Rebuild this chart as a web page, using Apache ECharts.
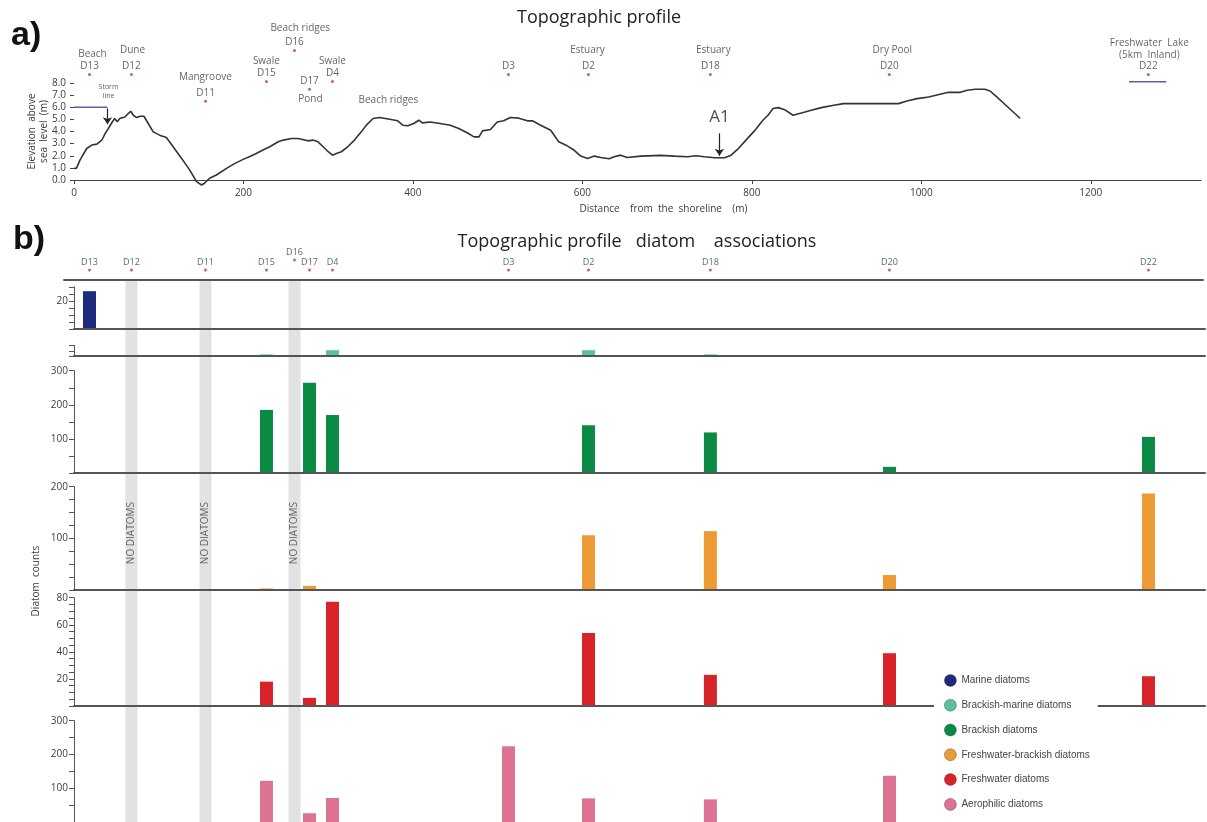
<!DOCTYPE html>
<html><head><meta charset="utf-8">
<script src="https://cdn.jsdelivr.net/npm/echarts@6/dist/echarts.min.js"></script>
<style>html,body{margin:0;padding:0;background:#fff}#c{width:1207px;height:822px}</style>
</head><body><div id="c"></div>
<script>
// ---------------- DATA ----------------
const samples = ['D13','D12','D11','D15','D16','D17','D4','D3','D2','D18','D20','D22'];
const sampleDistance = [18.3, 67.8, 155.2, 227.1, 260.2, 277.9, 305, 512.7, 607.1, 750.9, 962.2, 1267.8];

const profileDistance = [0,3,7,15,21,27,33,36.5,40.5,44.4,48,51,54,60,64,67,70,74,78,82.5,87.6,93.5,101,109,117,127,137,144.6,150.5,154,160,168,180,190,199.6,207,215,223,231,241,247,256.6,264,270,276,282,288,294,300,305,309.6,315.5,323,331,339,345,353,360.7,372.5,382,388,394,401,407,411,420.5,432,444,454,464,472,478,482,491.5,499.4,507,515,525,535,541,550.7,562.5,568,572,582,590,598,606,614,621.7,631.5,637.5,645,653,669,692.7,708.5,724,734,744,756,767.6,775.5,783,793,803,813,819,825,831,838.6,848.5,858.5,870,882,896.7,908,936,973,983,995,1008.6,1022,1032,1046,1054,1063.7,1075,1081,1089,1101,1116.7];
const profileElevation = [0.96,0.98,1.64,2.6,2.88,2.96,3.3,3.8,4.25,4.7,5.07,4.8,5.07,5.2,5.48,5.67,5.34,5.15,5.26,5.26,4.66,3.97,3.7,3.5,2.74,1.78,0.77,-0.14,-0.41,-0.27,0.14,0.41,0.96,1.37,1.7,1.92,2.19,2.47,2.74,3.15,3.29,3.42,3.42,3.34,3.23,3.29,3.15,2.74,2.33,2.05,2.19,2.33,2.74,3.29,3.97,4.52,5.07,5.15,5.01,4.88,4.52,4.47,4.66,4.93,4.71,4.79,4.66,4.52,4.25,3.9,3.56,3.56,4.05,4.16,4.79,4.88,5.15,5.1,4.88,4.88,4.52,4.1,3.56,3.15,2.82,2.47,1.97,1.78,1.97,1.86,1.75,1.92,2.05,1.86,1.97,2.03,1.97,1.92,2.0,1.92,1.84,1.84,2.05,2.52,3.29,4.05,4.93,5.34,5.89,5.97,5.8,5.34,5.53,5.75,5.97,6.16,6.3,6.3,6.3,6.52,6.71,6.85,7.07,7.23,7.23,7.4,7.48,7.48,7.34,6.85,6.08,5.07];

const stormLineElevation = 6.0;
const stormLineExtent = [0, 39.5];
const lakeLevel = 8.1;
const lakeExtent = [1245, 1289];

const seriesNames = ['Marine diatoms','Brackish-marine diatoms','Brackish diatoms','Freshwater-brackish diatoms','Freshwater diatoms','Aerophilic diatoms'];
//                 D13 D12  D11  D15  D16  D17  D4   D3   D2   D18  D20  D22
const marine         = [27, null,null,null,null,null,null,null,null,null,null,null];
const brackishMarine = [null,null,null,1.5,null,null,5.5,null,5.5,1.5,null,null];
const brackish       = [null,null,null,185,null,265,170,null,140,119,18,106];
const freshBrackish  = [null,null,null,3,null,8,null,2,106,114,29,187];
const freshwater     = [null,null,null,18,null,6,77,null,54,23,39,22];
const aerophilic     = [null,null,null,122,null,26,71,224,70,67,137,null];
const noDiatomSamples = ['D12','D11','D16'];

const xTicksA = [0,200,400,600,800,1000,1200];
const panelMax = [30, 10, 300, 200, 80, 300];
const panelTickStep = [5, 5, 50, 25, 5, 50];
const panelLabels = [[20], [], [100,200,300], [100,200], [20,40,60,80], [100,200,300]];

const locationLabels = [
  ['Beach', 21.8, 10.35], ['Dune', 69, 10.7], ['Mangroove', 155, 8.46], ['Swale', 227, 9.78],
  ['Beach ridges', 267, 12.5], ['Pond', 279, 6.66], ['Swale', 305, 9.78], ['Beach ridges', 371, 6.57],
  ['Estuary', 606, 10.7], ['Estuary', 754.5, 10.7], ['Dry Pool', 965.7, 10.7],
  ['Freshwater  Lake', 1269, 11.26], ['(5km  Inland)', 1269, 10.27]
];

// ---------------- LAYOUT / STYLE ----------------
const dotLevelA = [8.71, 8.71, 6.49, 8.13, 10.68, 7.48, 8.13, 8.71, 8.71, 8.71, 8.71, 8.71];
const dotLevelB = samples.map(s => s === 'D16' ? 1.037 : 1.0185);
const colors = ['#1e2a7c','#5dbf9f','#0b8a45','#ec9b35','#d8232a','#dc7393'];
const panelTops = [287, 345.5, 370.7, 486.7, 597.7, 720.7];
const panelHeights = [42, 10.5, 102.3, 103.3, 108.3, 102.6];
const FONT = 'Open Sans';
const TXT = '#3c3c3c';
const AX = '#555';

const panelValues = [marine, brackishMarine, brackish, freshBrackish, freshwater, aerophilic];

const grids = [{left:74, right:6, top:83, height:97}];
const xAxes = [{
  gridIndex:0, type:'value', min:0, max:1330, interval:200,
  axisLine:{show:true, lineStyle:{color:'#444', width:1.2}},
  axisTick:{show:true, length:4, customValues:xTicksA, lineStyle:{color:'#444'}},
  axisLabel:{customValues:xTicksA, formatter:v=>String(v), fontSize:10, color:TXT, fontFamily:FONT, margin:8},
  splitLine:{show:false},
  name:'Distance    from  the  shoreline    (m)', nameLocation:'middle', nameGap:24, nameMoveOverlap:false,
  nameTextStyle:{fontSize:10, color:TXT, fontFamily:FONT, padding:[0,0,0,52]}
}];
const yAxes = [{
  gridIndex:0, type:'value', min:0, max:8, interval:1,
  axisLine:{show:false}, axisTick:{show:true, length:4, lineStyle:{color:'#444'}},
  axisLabel:{formatter:v=>v.toFixed(1), fontSize:10, color:TXT, fontFamily:FONT, margin:8},
  splitLine:{show:false},
  name:'Elevation  above\nsea  level  (m)', nameLocation:'middle', nameGap:24, nameMoveOverlap:false,
  nameTextStyle:{fontSize:10, color:TXT, fontFamily:FONT, lineHeight:12}
}];

for (let i = 0; i < 6; i++) {
  grids.push({left:74, right:2, top:panelTops[i], height:panelHeights[i]});
  xAxes.push({gridIndex:i+1, type:'value', min:0, max:1334.5, z:5,
    axisLine:{show:i < 5, lineStyle:{color:AX, width:2}}, axisTick:{show:false}, axisLabel:{show:false}, splitLine:{show:false}});
  const labs = panelLabels[i];
  yAxes.push({gridIndex:i+1, type:'value', min:0, max:panelMax[i], interval:panelTickStep[i],
    axisLine:{show:true, lineStyle:{color:AX, width:1}},
    axisTick:{show:true, length:5, lineStyle:{color:AX}},
    axisLabel:{formatter:v=>labs.includes(v)?String(v):'', fontSize:10, color:TXT, fontFamily:FONT, margin:6},
    splitLine:{show:false}});
}
// overlay grid for the whole b) block
grids.push({left:64, right:4, top:280, height:542});
xAxes.push({gridIndex:7, type:'value', min:-11.8, max:1332.2, position:'top', z:5,
  axisLine:{show:true, onZero:false, lineStyle:{color:AX, width:2}}, axisTick:{show:false}, axisLabel:{show:false}, splitLine:{show:false}});
yAxes.push({gridIndex:7, type:'value', min:0, max:1,
  axisLine:{show:false, onZero:false}, axisTick:{show:false}, axisLabel:{show:false}, splitLine:{show:false},
  name:'Diatom  counts', nameLocation:'middle', nameGap:23,
  nameTextStyle:{fontSize:10, color:TXT, fontFamily:FONT, padding:[0,60,0,0]}});

const series = [];
// a) profile
series.push({type:'line', xAxisIndex:0, yAxisIndex:0, clip:false, symbol:'none', silent:true,
  data: profileDistance.map((d,i)=>[d, profileElevation[i]]),
  lineStyle:{color:'#333', width:1.6},
  markLine:{silent:true, symbol:['none','arrow'], symbolSize:7, animation:false,
    lineStyle:{color:'#222', width:1.2, type:'solid'}, label:{show:false},
    data:[[{coord:[39.5,5.9]},{coord:[39.5,4.6]}],[{coord:[761.7,3.85]},{coord:[761.7,2.0]}]]}
});
series.push({type:'line', xAxisIndex:0, yAxisIndex:0, clip:false, symbol:'none', silent:true,
  data: stormLineExtent.map(d=>[d, stormLineElevation]), lineStyle:{color:'#5a5fa8', width:1.5}});
series.push({type:'line', xAxisIndex:0, yAxisIndex:0, clip:false, symbol:'none', silent:true,
  data: lakeExtent.map(d=>[d, lakeLevel]), lineStyle:{color:'#5a5fa8', width:1.5}});
series.push({type:'scatter', xAxisIndex:0, yAxisIndex:0, clip:false, symbolSize:3, silent:true,
  itemStyle:{color:'#c23a3a'},
  data: samples.map((s,i)=>({name:s, value:[sampleDistance[i], dotLevelA[i]]})),
  label:{show:true, position:'top', distance:2, formatter:'{b}', fontSize:10, color:TXT, fontFamily:FONT}});
series.push({type:'scatter', xAxisIndex:0, yAxisIndex:0, clip:false, symbolSize:0, silent:true,
  data: locationLabels.map(l=>({name:l[0], value:[l[1], l[2]]})),
  label:{show:true, position:'inside', formatter:'{b}', fontSize:10, color:TXT, fontFamily:FONT}});
series.push({type:'scatter', xAxisIndex:0, yAxisIndex:0, clip:false, symbolSize:0, silent:true,
  data:[{name:'Storm', value:[40.7,7.64]},{name:'line', value:[40.7,6.9]},
        {name:'A1', value:[761.7,5.2], label:{fontSize:17, color:'#222'}}],
  label:{show:true, position:'inside', formatter:'{b}', fontFamily:FONT, color:'#333', fontSize:7}});

// b) bands and labels (overlay)
series.push({type:'bar', xAxisIndex:7, yAxisIndex:7, barWidth:12, silent:true, z:1,
  itemStyle:{color:'#e2e2e2'},
  data: noDiatomSamples.map(s=>[sampleDistance[samples.indexOf(s)], 1])});
series.push({type:'scatter', xAxisIndex:7, yAxisIndex:7, symbolSize:0, silent:true, z:3,
  data: noDiatomSamples.map(s=>[sampleDistance[samples.indexOf(s)], 0.533]),
  label:{show:true, position:'inside', rotate:90, formatter:'NO DIATOMS', fontSize:10, color:'#444', fontFamily:FONT}});
series.push({type:'scatter', xAxisIndex:7, yAxisIndex:7, clip:false, symbolSize:3, silent:true,
  itemStyle:{color:'#c23a3a'},
  data: samples.map((s,i)=>({name:s, value:[sampleDistance[i], dotLevelB[i]]})),
  label:{show:true, position:'top', distance:2, formatter:'{b}', fontSize:9, color:TXT, fontFamily:FONT}});

// b) diatom bars
for (let i = 0; i < 6; i++) {
  series.push({type:'bar', name:seriesNames[i], xAxisIndex:i+1, yAxisIndex:i+1, barWidth:13, silent:true,
    itemStyle:{color:colors[i]},
    data: panelValues[i].map((v,k)=> v==null?null:[sampleDistance[k], v]).filter(d=>d)});
}

const option = {
  animation:false,
  backgroundColor:'#fff',
  title:[
    {text:'Topographic profile', left:594, top:4, textAlign:'center', textStyle:{fontSize:18, fontWeight:'normal', color:'#222', fontFamily:FONT}},
    {text:'Topographic profile   diatom    associations', left:632, top:228, textAlign:'center', textStyle:{fontSize:18, fontWeight:'normal', color:'#222', fontFamily:FONT}},
    {text:'a)', left:6, top:14, textStyle:{fontSize:34, fontWeight:'bold', color:'#111', fontFamily:'Liberation Sans'}},
    {text:'b)', left:8, top:218, textStyle:{fontSize:34, fontWeight:'bold', color:'#111', fontFamily:'Liberation Sans'}}
  ],
  legend:{data:seriesNames, orient:'vertical', left:934, top:670, icon:'circle',
    itemWidth:12, itemHeight:12, itemGap:12, backgroundColor:'#fff', padding:[4,8,4,10], z:10,
    itemStyle:{borderColor:'rgba(0,0,0,0.35)', borderWidth:0.8},
    textStyle:{fontSize:10, color:'#444', fontFamily:'Liberation Sans'}},
  grid:grids, xAxis:xAxes, yAxis:yAxes, series:series
};
const chart = echarts.init(document.getElementById('c'), null, {renderer:'canvas'});
chart.setOption(option);
</script></body></html>
